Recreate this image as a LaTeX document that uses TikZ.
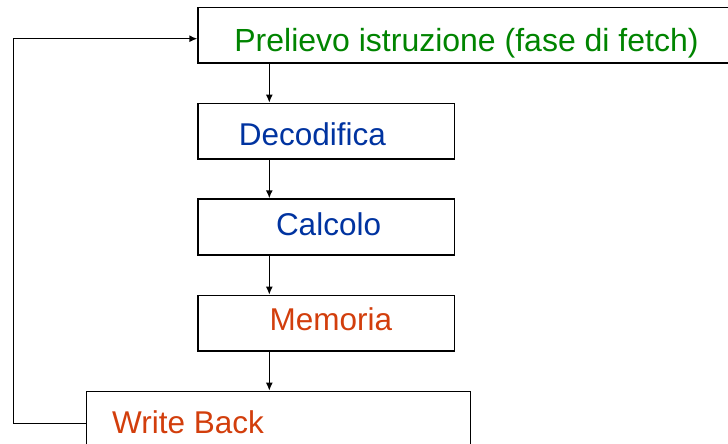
\documentclass[tikz,border=0pt]{standalone}
\usepackage{fontspec}
\setmainfont{Liberation Sans}
\usetikzlibrary{arrows.meta}
\definecolor{fgreen}{RGB}{0,132,0}
\definecolor{fblue}{RGB}{0,51,160}
\definecolor{forange}{RGB}{210,62,12}
\tikzset{
  stagebox/.style={draw=black, line width=1.5pt, rectangle, inner sep=0pt, anchor=north west},
  stagetext/.style={anchor=base west, inner sep=0pt, font=\fontsize{31.5}{36}\selectfont},
  flow/.style={draw=black, line width=1.4pt, line join=miter, -{Latex[length=8pt,width=7pt]}}
}
\begin{document}
\begin{tikzpicture}[x=1pt,y=-1pt]
\useasboundingbox (0,0) rectangle (728,444);
\clip (0,0) rectangle (728,444);
% boxes
\node[stagebox, minimum width=540pt, minimum height=55.6pt] (fetch) at (197.3,6.7) {};
\node[stagebox, minimum width=256.4pt, minimum height=55.6pt] (dec) at (197.3,102.7) {};
\node[stagebox, minimum width=256.4pt, minimum height=56pt] (calc) at (197.3,198.3) {};
\node[stagebox, minimum width=256.4pt, minimum height=55.6pt] (mem) at (197.3,294.7) {};
\node[stagebox, minimum width=384pt, minimum height=80pt] (wb) at (85.7,390.7) {};
% texts
\node[stagetext, text=fgreen, font=\fontsize{32}{36}\selectfont] (tfetch) at (234.2,51.7) {Prelievo istruzione (fase di fetch)};
\node[stagetext, text=fblue] (tdec) at (238.6,145) {Decodifica};
\node[stagetext, text=fblue] (tcalc) at (275.8,235) {Calcolo};
\node[stagetext, text=forange] (tmem) at (269.4,330.7) {Memoria};
\node[stagetext, text=forange] (twb) at (112,433.3) {Write Back};
% connectors
\coordinate (ax) at (269.3,0);
\coordinate (lx) at (13.7,0);
\coordinate (wbout) at (85.7,423.3);
\coordinate (fin) at (197.3,38.7);
\draw[flow] (fetch.south -| ax) -- (dec.north -| ax);
\draw[flow] (dec.south -| ax) -- (calc.north -| ax);
\draw[flow] (calc.south -| ax) -- (mem.north -| ax);
\draw[flow] (mem.south -| ax) -- (wb.north -| ax);
\draw[flow] (wbout) -- (wbout -| lx) -- (fin -| lx) -- (fin);
\end{tikzpicture}
\end{document}
